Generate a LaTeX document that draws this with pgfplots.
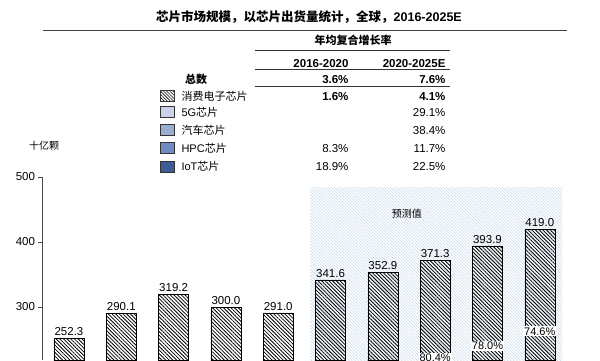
\documentclass[border=0pt]{standalone}
\usepackage{pgfplots}
\pgfplotsset{compat=1.18}
\usepackage{fontspec}
\setmainfont{Liberation Sans}
\newfontfamily\cjk{Noto Sans CJK SC}
\usetikzlibrary{patterns.meta}
\definecolor{cfive}{HTML}{C9D2E6}
\definecolor{cauto}{HTML}{9BADD2}
\definecolor{chpc}{HTML}{6F8BC3}
\definecolor{ciot}{HTML}{3D5B94}
\definecolor{fcst}{HTML}{CADCEC}
\newcommand{\fs}[1]{\fontsize{#1}{#1}\selectfont}
\pgfplotsset{frame/.style={
  at={(42pt,0pt)}, anchor=south west,
  scale only axis, width=525pt, height=183pt,
  xmin=-0.516, xmax=9.52, ymin=218.5, ymax=500}}
\begin{document}
\begin{tikzpicture}[x=1pt,y=1pt]
% forecast background
\begin{axis}[frame, hide axis]
\fill[pattern={Lines[angle=-45,distance=2.2pt,line width=0.6pt]}, pattern color=fcst]
  (axis cs:4.61,218.5) rectangle (axis cs:9.43,484.6);
\node[font=\cjk\itshape\fs{10}] at (axis cs:6.46,443) {预测值};
\end{axis}
\begin{axis}[
  frame,
  axis y line*=left, axis x line=none,
  ytick={300,400,500},
  tick align=outside, major tick length=3.5pt,
  y axis line style={draw=black!70, line width=0.8pt},
  ytick style={draw=black!70, line width=0.8pt},
  yticklabel style={font=\fs{11.5}},
  /pgf/number format/assume math mode=true,
  ybar stacked, bar width=30pt,
]
% other chips (5G, auto, HPC, IoT), below the visible window
\addplot[fill=ciot, draw=black, line width=0.6pt] coordinates {
 (0,12.6) (1,18.9) (2,27.1) (3,30.0) (4,34.9) (5,54.7) (6,63.5) (7,72.8) (8,86.7) (9,106.4)};
% consumer electronics chips
\addplot[pattern={Lines[angle=-45,distance=2.6pt,line width=0.8pt]}, pattern color=black,
  draw=black, line width=0.6pt]
 coordinates {
 (0,239.7) (1,271.2) (2,292.1) (3,270.0) (4,256.1)
 (5,286.9) (6,289.4) (7,298.5) (8,307.2) (9,312.6)};
\end{axis}
% labels layer
\begin{axis}[frame, hide axis, clip=false, /pgf/number format/assume math mode=true]
\addplot[draw=none, mark=none,
  nodes near coords, point meta=explicit,
  nodes near coords style={font=\fs{11.5}, anchor=south, inner sep=2.5pt,
     /pgf/number format/fixed, /pgf/number format/fixed zerofill, /pgf/number format/precision=1}]
 coordinates {
 (0,252.3) [252.3] (1,290.1) [290.1] (2,319.2) [319.2] (3,300.0) [300.0] (4,291.0) [291.0]
 (5,341.6) [341.6] (6,352.9) [352.9] (7,371.3) [371.3] (8,393.9) [393.9] (9,419.0) [419.0]};
\addplot[draw=none, mark=none,
  nodes near coords, point meta=explicit symbolic,
  nodes near coords style={font=\fs{11}, anchor=center, fill=white, inner sep=1pt}]
 coordinates {(7,222.0) [80.4\%] (8,240.3) [78.0\%] (9,262.7) [74.6\%]};
\end{axis}
% unit label
\node[font=\cjk\itshape\fs{10}] at (44,214) {十亿颗};
% title
\node[anchor=base, font=\fs{12.5}] at (309,338.5) {{\cjk\bfseries 芯片市场规模，以芯片出货量统计，全球，}\textbf{2016-2025E}};
\draw[black!75, line width=1pt] (43,330) -- (567,330);
% CAGR table
\node[anchor=base, font=\cjk\bfseries\fs{11}] at (353,316) {年均复合增长率};
\draw[black!80, line width=0.9pt] (255,310) -- (450,310);
\node[anchor=base east, font=\bfseries\fs{11.5}] at (352,293) {2016-2020};
\node[anchor=base east, font=\bfseries\fs{11.5}] at (449,293) {2020-2025E};
\draw[black!80, line width=0.9pt] (255,291) -- (450,291);
\node[anchor=base, font=\cjk\bfseries\fs{11}] at (196,277) {总数};
\node[anchor=base east, font=\bfseries\fs{11.5}] at (352,277) {3.6\%};
\node[anchor=base east, font=\bfseries\fs{11.5}] at (449,277) {7.6\%};
\draw[black!80, line width=0.9pt] (255,273.5) -- (450,273.5);
% legend rows
\fill[white] (160,258.5) rectangle (174,269.5);
\path[pattern={Lines[angle=-45,distance=2.2pt,line width=0.6pt]}, pattern color=black] (160,258.5) rectangle (174,269.5);
\draw[black!80, line width=0.6pt] (160,258.5) rectangle (174,269.5);
\draw[black!80, line width=0.6pt, fill=cfive] (160,242.5) rectangle (174,253.5);
\draw[black!80, line width=0.6pt, fill=cauto] (160,224.5) rectangle (174,235.5);
\draw[black!80, line width=0.6pt, fill=chpc] (160,206.5) rectangle (174,217.5);
\draw[black!80, line width=0.6pt, fill=ciot] (160,188) rectangle (174,199);
\node[anchor=base west, font=\fs{11}] at (178,260) {\cjk 消费电子芯片};
\node[anchor=base west, font=\fs{11}] at (178,244) {5G{\cjk 芯片}};
\node[anchor=base west, font=\fs{11}] at (178,226) {\cjk 汽车芯片};
\node[anchor=base west, font=\fs{11}] at (178,207.7) {HPC{\cjk 芯片}};
\node[anchor=base west, font=\fs{11}] at (178,189.3) {IoT{\cjk 芯片}};
\node[anchor=base east, font=\bfseries\fs{11.5}] at (352,260) {1.6\%};
\node[anchor=base east, font=\bfseries\fs{11.5}] at (449,260) {4.1\%};
\node[anchor=base east, font=\fs{11.5}] at (449,244) {29.1\%};
\node[anchor=base east, font=\fs{11.5}] at (449,226) {38.4\%};
\node[anchor=base east, font=\fs{11.5}] at (352,207.7) {8.3\%};
\node[anchor=base east, font=\fs{11.5}] at (449,207.7) {11.7\%};
\node[anchor=base east, font=\fs{11.5}] at (352,189.3) {18.9\%};
\node[anchor=base east, font=\fs{11.5}] at (449,189.3) {22.5\%};
\pgfresetboundingbox
\path[use as bounding box] (0,0) rectangle (600,360);
\end{tikzpicture}
\end{document}
